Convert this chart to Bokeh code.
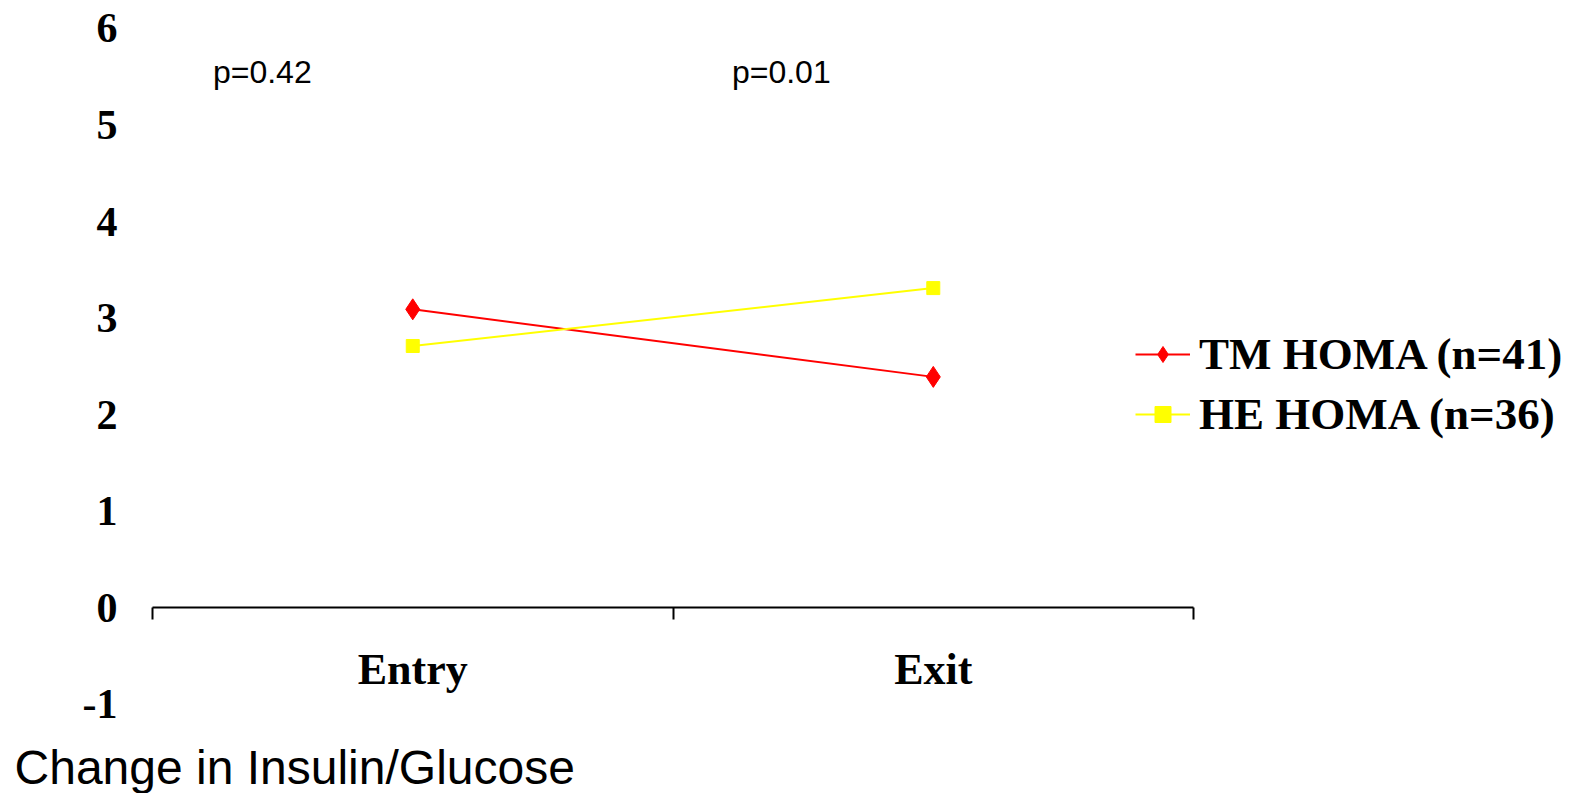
import numpy as np
from bokeh.plotting import figure
from bokeh.models import (FixedTicker, Legend, LegendItem, Label, LinearAxis, Range1d)
from bokeh.embed import file_html
from bokeh.resources import INLINE

# ---- data ----
categories = ["Entry", "Exit"]
tm_homa = [3.09, 2.39]
he_homa = [2.71, 3.31]
series_labels = ["TM HOMA (n=41)", "HE HOMA (n=36)"]
p_values = ["p=0.42", "p=0.01"]
y_ticks = [-1, 0, 1, 2, 3, 4, 5, 6]
footer = "Change in Insulin/Glucose"

# category slots: each category occupies one unit, centred at index + 0.5
cat_x = [i + 0.5 for i in range(len(categories))]
bounds = [float(i) for i in range(len(categories) + 1)]

W, H = 1572, 793
p = figure(width=W, height=H,
           x_range=Range1d(-0.292, 2.728), y_range=Range1d(-1.927, 6.290),
           x_axis_type=None, y_axis_type=None,
           output_backend="svg", toolbar_location=None,
           min_border=0)
p.outline_line_color = None
p.grid.grid_line_color = None
p.background_fill_color = "white"

# x axis line + boundary ticks at y = 0
bt = LinearAxis(ticker=FixedTicker(ticks=bounds), fixed_location=0,
                bounds=(bounds[0], bounds[-1]))
bt.axis_line_width = 2
bt.axis_line_color = "black"
bt.major_tick_line_width = 2
bt.major_tick_line_color = "black"
bt.major_tick_out = 12
bt.major_tick_in = 0
bt.minor_tick_line_color = None
bt.major_label_text_font_size = "0px"
bt.major_label_text_alpha = 0
p.add_layout(bt, "below")

# category labels
xa = LinearAxis(ticker=FixedTicker(ticks=cat_x), fixed_location=0)
xa.major_label_overrides = {x: c for x, c in zip(cat_x, categories)}
xa.axis_line_color = None
xa.major_tick_line_color = None
xa.minor_tick_line_color = None
xa.major_tick_out = 0
xa.major_tick_in = 0
xa.major_label_standoff = 37
xa.major_label_text_font = "Liberation Serif"
xa.major_label_text_font_style = "bold"
xa.major_label_text_font_size = "44px"
xa.major_label_text_color = "black"
p.add_layout(xa, "below")

# y axis (labels only)
ya = LinearAxis(ticker=FixedTicker(ticks=y_ticks), fixed_location=0)
ya.major_label_overrides = {t: str(t) for t in y_ticks}
ya.axis_line_color = None
ya.major_tick_line_color = None
ya.minor_tick_line_color = None
ya.major_tick_out = 0
ya.major_tick_in = 0
ya.major_label_standoff = 35
ya.major_label_text_font = "Liberation Serif"
ya.major_label_text_font_style = "bold"
ya.major_label_text_font_size = "42px"
ya.major_label_text_color = "black"
p.add_layout(ya, "left")

# series
l1 = p.line(cat_x, tm_homa, line_color="#FF0000", line_width=2)
m1 = p.scatter(cat_x, tm_homa, marker="diamond", size=21,
               fill_color="#FF0000", line_color="#FF0000")
l2 = p.line(cat_x, he_homa, line_color="#FFFF00", line_width=2)
m2 = p.scatter(cat_x, he_homa, marker="square", size=13,
               fill_color="#FFFF00", line_color="#FFFF00")

legend = Legend(items=[LegendItem(label=series_labels[0], renderers=[l1, m1]),
                       LegendItem(label=series_labels[1], renderers=[l2, m2])],
                location=(1135, 353))
legend.border_line_color = None
legend.background_fill_alpha = 0
legend.padding = 0
legend.margin = 0
legend.spacing = 8
legend.glyph_width = 55
legend.glyph_height = 40
legend.label_height = 50
legend.label_standoff = 9
legend.label_text_font = "Liberation Serif"
legend.label_text_font_style = "bold"
legend.label_text_font_size = "45px"
legend.label_text_color = "black"
legend.label_text_baseline = "middle"
p.add_layout(legend, "center")

# p-value annotations
for xv, txt in zip([0.211, 1.208], p_values):
    p.add_layout(Label(x=xv, y=5.554, text=txt, text_align="center",
                       text_baseline="middle", text_font="Liberation Sans",
                       text_font_size="32px", text_color="black"))

p.add_layout(Label(x=-0.265, y=-1.66, text=footer, text_align="left",
                   text_baseline="alphabetic", text_font="Liberation Sans",
                   text_font_size="48px", text_color="black"))

open("out.html", "w").write(file_html(p, INLINE))
